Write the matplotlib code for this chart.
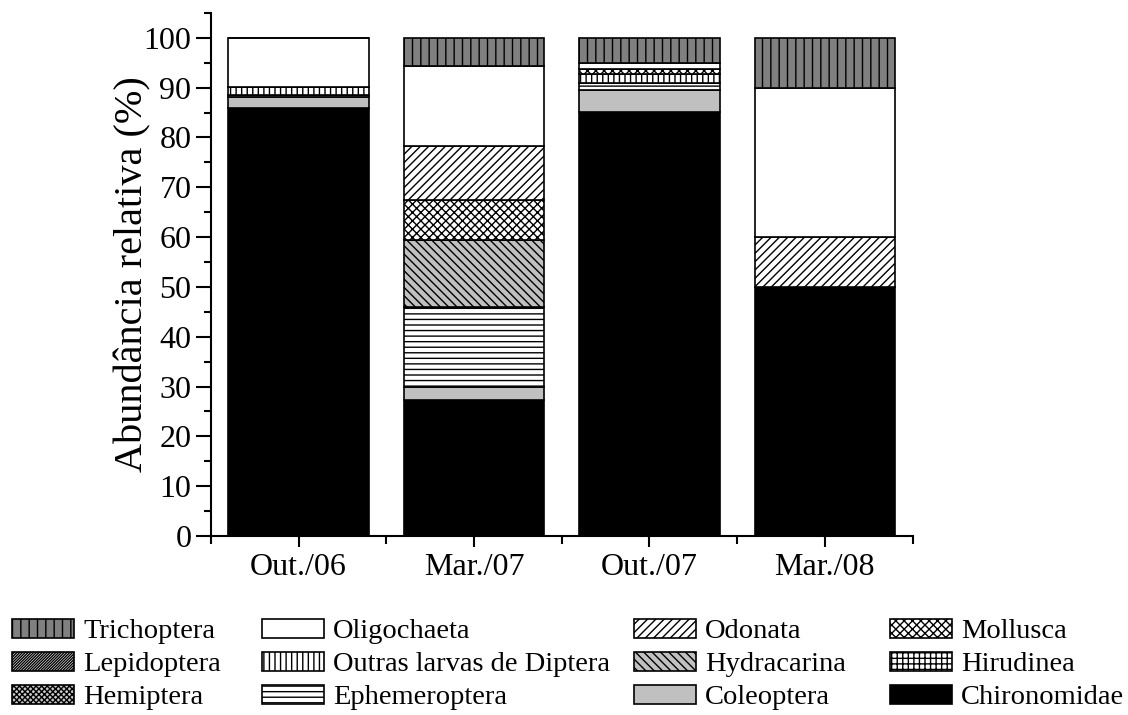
import matplotlib
matplotlib.use("Agg")
import matplotlib.pyplot as plt
import numpy as np
from matplotlib.ticker import MultipleLocator, FixedLocator

plt.rcParams['font.family'] = ['Liberation Serif', 'DejaVu Serif']
plt.rcParams['hatch.linewidth'] = 1.0

# sampling dates
dates = ["Out./06", "Mar./07", "Out./07", "Mar./08"]

# relative abundance (%) per taxon, stacked from bottom to top
chironomidae = [85.9, 27.3, 85.1, 50.0]
coleoptera = [2.3, 2.6, 4.5, 0.0]
ephemeroptera = [0.4, 16.1, 1.4, 0.0]
hemiptera = [0.0, 0.0, 0.0, 0.0]
hirudinea = [0.0, 0.0, 0.0, 0.0]
hydracarina = [0.0, 13.4, 0.0, 0.0]
outras_diptera = [1.5, 0.0, 1.8, 0.0]
lepidoptera = [0.0, 0.0, 0.0, 0.0]
mollusca = [0.0, 8.1, 1.0, 0.0]
odonata = [0.0, 10.8, 0.0, 10.0]
oligochaeta = [9.9, 16.1, 1.1, 30.0]
trichoptera = [0.0, 5.6, 5.1, 10.0]

# (label, values, facecolor, hatch) bottom -> top
taxa = [
    ("Chironomidae", chironomidae, "black", None),
    ("Coleoptera", coleoptera, "#c0c0c0", None),
    ("Ephemeroptera", ephemeroptera, "white", "---"),
    ("Hemiptera", hemiptera, "#c8c8c8", "xxxxxx"),
    ("Hirudinea", hirudinea, "white", "+++"),
    ("Hydracarina", hydracarina, "#c0c0c0", "\\\\\\\\"),
    ("Outras larvas de Diptera", outras_diptera, "white", "|||"),
    ("Lepidoptera", lepidoptera, "white", "////////////"),
    ("Mollusca", mollusca, "white", "xxxx"),
    ("Odonata", odonata, "white", "////"),
    ("Oligochaeta", oligochaeta, "white", None),
    ("Trichoptera", trichoptera, "#808080", "||"),
]

fig = plt.figure(figsize=(11.28, 7.15), dpi=100)
ax = fig.add_axes([0.187, 0.2503, 0.622, 0.7317])

x = np.arange(1, len(dates) + 1)
bottom = np.zeros(len(dates))
handles = {}
for name, vals, fc, hatch in taxa:
    vals = np.array(vals)
    bars = ax.bar(x, vals, width=0.8, bottom=bottom, color=fc,
                  edgecolor="black", linewidth=1.2, hatch=hatch)
    handles[name] = bars
    bottom += vals

ax.set_xlim(0.5, 4.5)
ax.set_ylim(0, 105)
ax.set_xticks(x)
ax.set_xticklabels(dates)
ax.xaxis.set_minor_locator(FixedLocator([0.5, 1.5, 2.5, 3.5, 4.5]))
ax.set_yticks(np.arange(0, 101, 10))
ax.yaxis.set_minor_locator(MultipleLocator(5))

for s in ["top", "right"]:
    ax.spines[s].set_visible(False)
for s in ["left", "bottom"]:
    ax.spines[s].set_linewidth(1.5)

ax.tick_params(axis="y", which="major", length=11, width=1.5, labelsize=23, pad=3)
ax.tick_params(axis="y", which="minor", length=5, width=1.5)
ax.tick_params(axis="x", which="major", length=8, width=1.5, labelsize=23, pad=4)
ax.tick_params(axis="x", which="minor", length=6, width=1.5)

ax.set_ylabel("Abundância relativa (%)", fontsize=29)
ax.yaxis.set_label_coords(-0.085, 0.5)

# legend: four columns, each listed top to bottom
columns = [
    ["Trichoptera", "Lepidoptera", "Hemiptera"],
    ["Oligochaeta", "Outras larvas de Diptera", "Ephemeroptera"],
    ["Odonata", "Hydracarina", "Coleoptera"],
    ["Mollusca", "Hirudinea", "Chironomidae"],
]
col_x = [12, 262, 634, 890]
for names, cx in zip(columns, col_x):
    leg = fig.legend([handles[n] for n in names], names, loc="upper left",
                     bbox_to_anchor=(cx / 1128, 0.1343), frameon=False,
                     fontsize=20.5, handlelength=2.18, handleheight=0.63,
                     handletextpad=0.32, labelspacing=0.27,
                     borderpad=0, borderaxespad=0)

fig.savefig("out.png", dpi=100)
